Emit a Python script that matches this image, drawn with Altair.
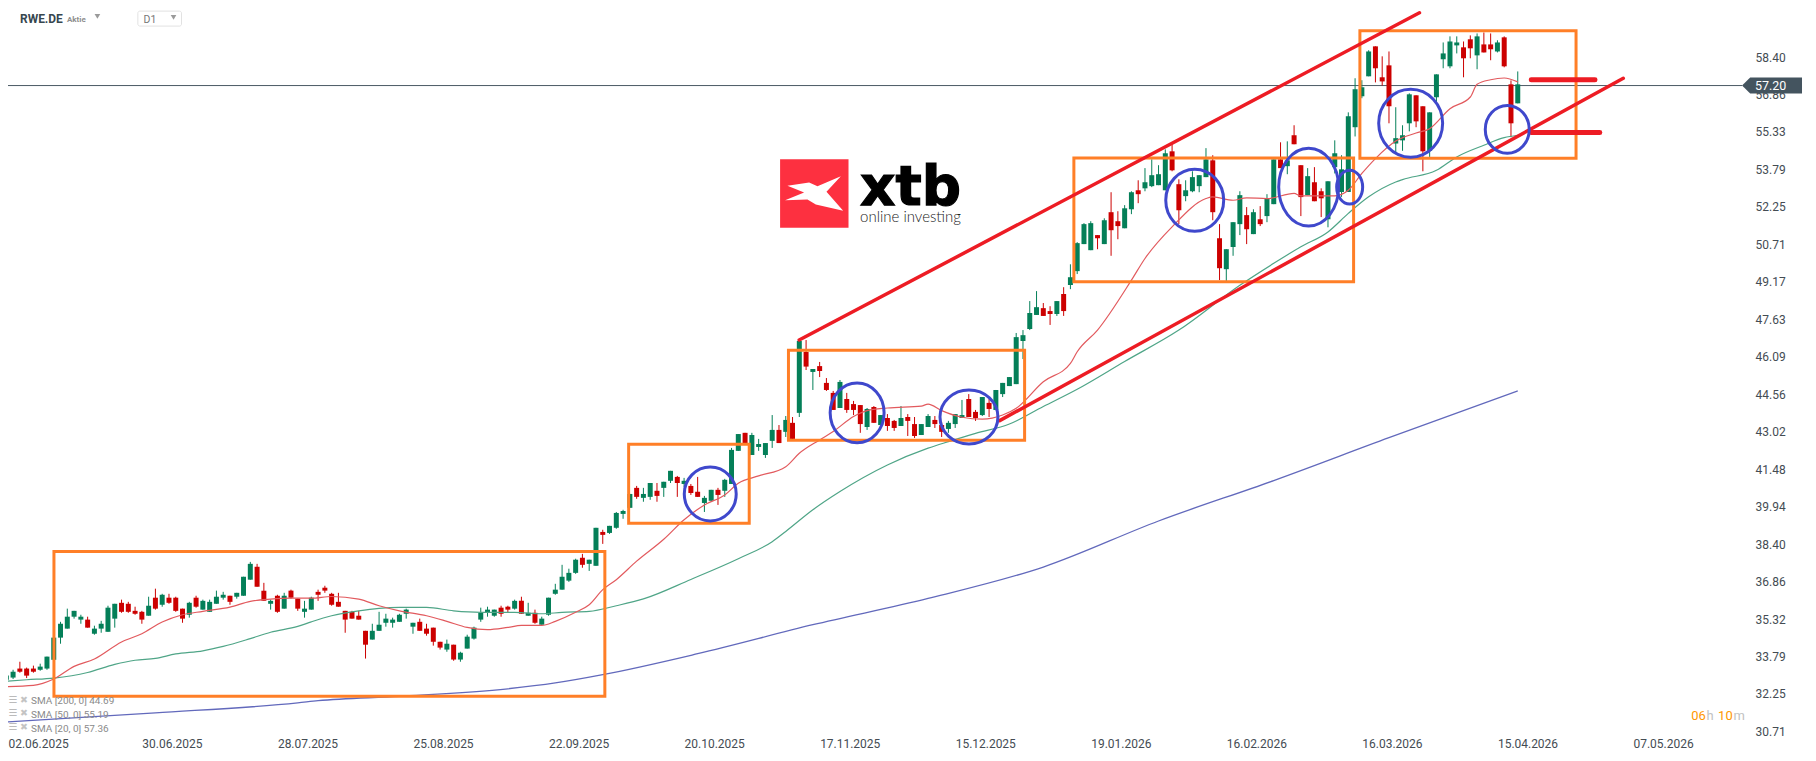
import json

import altair as alt
import pandas as pd

# daily candles, one value per trading day
opens = [
    32.83, 32.92, 33.29, 33.29, 33.29, 33.24, 33.29, 33.65, 34.56, 34.93,
    35.42, 35.30, 35.30, 34.72, 34.93, 34.80, 35.34, 35.99, 35.95, 35.66,
    35.62, 35.46, 36.20, 35.91, 36.20, 36.20, 35.75, 35.50, 36.20, 35.71,
    35.62, 35.95, 36.20, 36.28, 36.24, 36.28, 36.94, 37.47, 36.49, 35.95,
    36.28, 35.75, 36.49, 36.16, 35.62, 35.71, 36.44, 36.61, 36.36, 36.03,
    35.66, 35.62, 35.46, 34.84, 34.48, 34.84, 35.17, 35.17, 35.21, 35.54,
    35.01, 35.21, 34.93, 34.97, 34.39, 34.07, 34.27, 33.66, 34.11, 34.52,
    35.30, 35.58, 35.46, 35.79, 35.83, 35.75, 36.07, 35.46, 35.58, 35.09,
    35.50, 36.36, 36.53, 36.90, 37.22, 37.84, 37.59, 37.51, 38.90, 38.86,
    39.07, 39.64, 39.89, 40.71, 40.30, 40.34, 40.59, 40.71, 41.00, 41.16,
    40.87, 40.79, 40.55, 40.09, 40.18, 40.63, 40.59, 40.87, 42.23, 42.97,
    42.06, 42.39, 42.06, 42.64, 43.09, 43.01, 43.38, 43.79, 46.29, 45.47,
    45.71, 45.02, 44.61, 43.99, 44.36, 44.15, 44.11, 43.21, 44.03, 43.29,
    43.58, 43.46, 43.25, 43.62, 43.33, 42.88, 43.21, 43.50, 43.29, 43.13,
    43.33, 43.58, 44.36, 43.83, 43.70, 44.20, 43.91, 44.56, 44.89, 44.97,
    46.74, 47.23, 47.81, 48.09, 47.97, 47.85, 48.67, 49.04, 49.61, 50.72,
    50.47, 51.09, 50.72, 52.03, 51.66, 51.37, 52.15, 52.93, 53.01, 53.10,
    53.14, 52.93, 54.53, 53.18, 52.69, 52.89, 53.10, 53.47, 54.16, 50.96,
    49.69, 50.60, 51.54, 51.91, 51.13, 51.74, 51.87, 52.36, 54.20, 53.92,
    55.19, 53.96, 52.73, 53.26, 52.89, 51.74, 53.88, 52.86, 52.86, 55.52,
    56.79, 57.61, 58.84, 57.57, 58.06, 54.85, 54.98, 55.68, 56.83, 56.38,
    54.55, 56.75, 58.31, 58.02, 58.88, 58.80, 59.13, 58.47, 58.92, 58.92,
    58.63, 59.21, 57.28, 56.50,
]
highs = [
    33.20, 33.24, 33.57, 33.33, 33.41, 33.49, 33.78, 34.56, 35.21, 35.75,
    35.66, 35.50, 35.42, 35.05, 35.25, 35.87, 35.95, 36.12, 36.03, 35.83,
    35.66, 36.24, 36.57, 36.36, 36.36, 36.24, 35.75, 36.03, 36.28, 36.12,
    36.12, 36.49, 36.44, 36.28, 36.40, 37.06, 37.67, 37.59, 36.81, 36.12,
    36.32, 36.40, 36.53, 36.16, 36.07, 36.24, 36.53, 36.69, 36.40, 36.40,
    35.66, 35.66, 35.66, 34.84, 35.13, 35.62, 35.54, 35.38, 35.54, 35.75,
    35.17, 35.34, 35.13, 34.97, 34.39, 34.48, 34.27, 33.98, 34.68, 35.01,
    35.79, 35.83, 35.71, 35.87, 35.87, 36.12, 36.24, 35.99, 35.71, 35.42,
    36.20, 36.77, 37.55, 37.39, 37.80, 38.00, 37.76, 39.07, 38.99, 39.15,
    39.72, 39.81, 40.46, 40.79, 40.71, 40.91, 40.91, 40.96, 41.41, 41.20,
    41.12, 40.87, 41.16, 40.38, 40.63, 40.71, 41.08, 42.35, 42.92, 42.97,
    42.97, 42.72, 42.55, 43.70, 43.29, 43.66, 43.62, 46.78, 46.78, 45.59,
    45.88, 45.22, 44.69, 45.14, 44.61, 44.28, 44.11, 43.99, 44.07, 43.70,
    43.74, 43.50, 44.07, 43.74, 43.62, 43.33, 43.74, 43.66, 43.42, 43.46,
    43.74, 44.32, 44.56, 43.91, 44.44, 44.36, 44.73, 45.02, 45.26, 47.07,
    47.19, 48.38, 48.79, 48.30, 48.17, 48.38, 48.95, 49.89, 50.80, 51.58,
    51.66, 51.09, 51.78, 52.85, 52.07, 52.32, 52.89, 53.34, 53.84, 54.20,
    53.96, 54.61, 54.82, 53.38, 53.34, 53.71, 53.55, 54.66, 54.37, 51.54,
    50.51, 51.62, 52.89, 52.24, 52.15, 52.28, 52.77, 54.20, 54.90, 54.94,
    55.60, 53.96, 53.84, 53.88, 53.01, 53.30, 54.98, 54.37, 56.13, 57.53,
    57.45, 58.68, 58.84, 58.43, 58.63, 56.34, 55.60, 56.91, 56.83, 56.38,
    56.13, 57.69, 59.00, 59.25, 59.25, 59.04, 59.29, 59.37, 59.41, 59.37,
    59.09, 59.25, 57.44, 57.81,
]
lows = [
    32.77, 32.86, 33.12, 32.90, 33.12, 33.20, 33.24, 33.65, 34.31, 34.93,
    35.34, 35.13, 34.97, 34.68, 34.76, 34.80, 34.97, 35.58, 35.58, 35.50,
    35.13, 35.46, 35.71, 35.83, 35.95, 35.62, 35.17, 35.38, 35.79, 35.71,
    35.62, 35.95, 36.12, 35.91, 36.16, 36.28, 36.94, 36.65, 36.07, 35.71,
    35.58, 35.75, 36.16, 35.66, 35.38, 35.71, 36.07, 36.40, 35.87, 35.83,
    34.76, 35.34, 35.30, 33.70, 34.48, 34.84, 35.01, 34.97, 35.21, 35.34,
    34.72, 34.84, 34.64, 34.23, 34.07, 33.98, 33.61, 33.57, 34.11, 34.48,
    35.21, 35.42, 35.42, 35.42, 35.58, 35.71, 35.54, 35.46, 35.13, 35.09,
    35.46, 36.32, 36.53, 36.85, 37.18, 37.43, 37.30, 37.51, 38.41, 38.82,
    39.03, 39.44, 39.89, 40.26, 40.14, 40.22, 40.14, 40.34, 40.91, 40.34,
    40.75, 40.42, 40.34, 39.72, 40.14, 40.01, 40.34, 40.87, 42.23, 42.51,
    42.06, 42.23, 41.94, 42.35, 42.55, 42.80, 42.72, 43.62, 45.55, 44.73,
    45.26, 44.69, 43.91, 43.99, 43.79, 43.70, 42.97, 43.09, 43.38, 43.29,
    43.05, 43.05, 43.25, 42.84, 42.76, 42.88, 43.21, 43.17, 42.80, 42.97,
    43.17, 43.58, 43.62, 43.46, 43.66, 43.62, 43.91, 44.44, 44.89, 44.97,
    46.00, 47.19, 47.81, 47.77, 47.40, 47.77, 47.77, 48.87, 49.49, 50.72,
    50.47, 50.51, 50.72, 50.24, 50.92, 51.37, 51.95, 52.40, 52.89, 53.06,
    53.14, 52.93, 53.71, 51.54, 52.48, 52.85, 52.85, 53.47, 51.70, 49.24,
    49.15, 50.24, 51.09, 50.72, 51.13, 51.46, 51.62, 52.36, 53.84, 53.59,
    54.82, 51.87, 52.73, 52.48, 51.83, 51.41, 53.62, 52.66, 52.86, 55.14,
    56.71, 57.61, 57.36, 57.23, 55.68, 54.44, 54.55, 55.35, 55.52, 53.71,
    54.30, 56.49, 57.94, 57.94, 58.55, 57.57, 58.35, 57.90, 58.59, 58.27,
    58.59, 57.98, 55.11, 56.50,
]
closes = [
    33.00, 33.16, 33.16, 33.00, 33.16, 33.37, 33.78, 34.56, 35.13, 35.42,
    35.66, 35.42, 34.97, 34.93, 35.13, 35.79, 35.95, 35.62, 35.62, 35.54,
    35.30, 35.87, 35.75, 36.32, 35.99, 35.66, 35.34, 35.99, 35.83, 36.07,
    36.03, 36.24, 36.32, 36.03, 36.40, 37.06, 37.59, 36.65, 36.07, 36.07,
    35.62, 36.28, 36.20, 35.75, 35.75, 36.20, 36.32, 36.49, 35.91, 35.83,
    35.30, 35.34, 35.30, 34.27, 34.84, 35.09, 35.34, 35.30, 35.50, 35.71,
    35.17, 34.84, 34.72, 34.39, 34.15, 34.31, 33.66, 33.94, 34.60, 34.97,
    35.58, 35.71, 35.71, 35.54, 35.71, 36.07, 35.54, 35.58, 35.17, 35.34,
    36.20, 36.53, 37.06, 37.22, 37.76, 37.55, 37.76, 39.07, 38.78, 39.15,
    39.68, 39.76, 40.46, 40.34, 40.46, 40.91, 40.38, 40.96, 41.41, 40.91,
    41.00, 40.50, 40.34, 40.30, 40.63, 40.42, 41.04, 42.27, 42.92, 42.55,
    42.88, 42.51, 42.55, 43.09, 42.55, 43.50, 42.72, 46.74, 45.69, 45.59,
    45.51, 44.73, 43.91, 45.06, 43.91, 43.91, 43.33, 43.95, 43.38, 43.70,
    43.25, 43.17, 43.58, 43.46, 42.84, 43.33, 43.66, 43.33, 43.01, 43.38,
    43.74, 43.70, 43.62, 43.58, 44.44, 43.95, 44.73, 45.02, 45.26, 46.90,
    46.98, 47.89, 48.13, 47.77, 47.85, 48.38, 47.97, 49.36, 50.76, 51.54,
    51.58, 50.96, 51.70, 51.29, 51.46, 52.19, 52.85, 52.77, 53.26, 53.55,
    53.59, 54.45, 53.75, 52.11, 52.93, 53.47, 53.55, 54.20, 52.03, 49.73,
    50.51, 51.62, 52.73, 51.33, 52.03, 51.54, 52.60, 54.20, 53.84, 54.16,
    54.82, 52.65, 53.51, 52.48, 52.60, 53.30, 54.45, 53.79, 55.97, 57.08,
    57.16, 58.63, 57.94, 57.40, 56.38, 55.07, 55.19, 56.87, 55.76, 54.53,
    56.13, 57.69, 58.55, 59.04, 59.00, 58.35, 58.76, 59.25, 58.59, 58.72,
    59.00, 58.02, 55.68, 57.28,
]

# moving averages, read at the bars where the curve bends
sma20_bars = [
    0, 4, 7, 10, 13, 17, 20, 23, 26, 29, 33, 36, 39, 42, 45, 48, 52, 55, 58, 62,
    65, 68, 71, 74, 76, 79, 81, 84, 86, 88, 90, 93, 97, 100, 103, 106, 108, 111,
    115, 117, 120, 122, 125, 127, 130, 135, 136, 138, 141, 144, 147, 149, 153,
    157, 158, 161, 166, 168, 172, 177, 178, 181, 183, 186, 190, 191, 196, 198,
    200, 202, 205, 208, 210, 213, 216, 217, 219, 221, 223,
]
sma20_vals = [
    32.55, 32.60, 32.86, 33.38, 33.68, 34.38, 34.72, 35.20, 35.50, 35.64, 35.81,
    36.05, 36.14, 36.18, 36.18, 36.25, 36.14, 35.87, 35.66, 35.46, 35.23, 34.98,
    34.89, 34.98, 35.06, 35.06, 35.23, 35.60, 35.91, 36.53, 36.94, 37.70, 38.60,
    39.40, 40.01, 40.42, 40.90, 41.20, 41.58, 42.13, 42.68, 43.02, 43.64, 43.88,
    43.99, 44.07, 44.15, 43.88, 43.61, 43.53, 43.70, 43.98, 45.07, 45.82, 46.30,
    47.19, 49.24, 50.13, 51.43, 52.59, 52.66, 52.52, 52.62, 52.59, 52.80, 52.70,
    52.70, 52.93, 53.62, 54.23, 54.95, 55.28, 55.46, 56.28, 56.76, 57.28, 57.47,
    57.54, 57.38,
]
sma50_bars = [
    0, 3, 7, 12, 16, 19, 22, 25, 29, 32, 36, 39, 43, 45, 48, 52, 55, 58, 62, 66,
    70, 75, 79, 82, 86, 90, 94, 101, 108, 113, 115, 119, 123, 130, 136, 139, 143,
    148, 153, 158, 165, 173, 182, 187, 191, 195, 198, 201, 205, 206, 211, 214,
    218, 221, 223,
]
sma50_vals = [
    32.77, 32.83, 32.90, 33.13, 33.46, 33.63, 33.71, 33.89, 34.02, 34.20, 34.52,
    34.78, 35.02, 35.21, 35.46, 35.66, 35.76, 35.80, 35.80, 35.66, 35.60, 35.60,
    35.54, 35.60, 35.64, 35.87, 36.15, 36.95, 37.80, 38.50, 38.92, 39.81, 40.56,
    41.65, 42.34, 42.61, 42.95, 43.33, 44.05, 44.76, 45.90, 47.19, 49.03, 49.93,
    50.61, 51.22, 51.98, 52.66, 53.27, 53.37, 53.75, 54.30, 54.78, 55.09, 55.19,
]
sma200_bars = [0, 22, 43, 46, 58, 74, 81, 88, 102, 119, 136, 153, 170, 187, 204, 223]
sma200_vals = [
    31.10, 31.47, 31.88, 31.97, 32.15, 32.46, 32.70, 33.04, 33.90, 35.09, 36.17,
    37.46, 39.35, 41.01, 42.77, 44.69,
]

price_ticks = [
    30.71, 32.25, 33.79, 35.32, 36.86, 38.40, 39.94, 41.48, 43.02, 44.56, 46.09,
    47.63, 49.17, 50.71, 52.25, 53.79, 55.33, 56.86, 58.40,
]
# the first tick sits on the left edge, bar 0 itself falls just outside the svg
date_ticks = [0.25, 20, 40, 60, 80, 100, 120, 140, 160, 180, 200, 220, 240]
date_labels = [
    "02.06.2025", "30.06.2025", "28.07.2025", "25.08.2025", "22.09.2025",
    "20.10.2025", "17.11.2025", "15.12.2025", "19.01.2026", "16.02.2026",
    "16.03.2026", "15.04.2026", "07.05.2026",
]
last_price = 57.23

# hand drawn annotations, in bar number and price
box_from = [7.03, 91.82, 115.40, 157.51, 199.71]
box_to = [88.31, 109.61, 150.24, 198.78, 231.60]
box_top = [38.10, 42.50, 46.36, 54.26, 59.48]
box_bottom = [32.15, 39.26, 42.67, 49.17, 54.25]

channel_bars = [116.98, 208.50, 146.56, 238.57]
channel_prices = [46.78, 60.22, 43.47, 57.53]
channel_group = ["upper", "upper", "lower", "lower"]

level_bars = [225.0, 234.4, 225.0, 235.1]
level_prices = [57.47, 57.47, 55.30, 55.30]
level_group = ["a", "a", "b", "b"]

ring_bars = [103.86, 125.53, 142.03, 175.34, 192.15, 198.20, 207.20, 221.45]
ring_prices = [40.46, 43.79, 43.62, 52.52, 53.06, 53.06, 55.68, 55.43]
ring_rx = [26, 27, 29, 29, 30, 13, 32, 22]
ring_ry = [27, 30, 27, 31, 39, 17, 34, 24]

GREEN = "#047F58"
RED = "#CC0000"
INK = "#444C53"

candles = pd.DataFrame({
    "bar": list(range(len(opens))),
    "open": opens, "high": highs, "low": lows, "close": closes,
    "dir": ["up" if c >= o else "down" for o, c in zip(opens, closes)],
})

# scales chosen so that the price grid lands where the platform has it
x_scale = alt.Scale(domain=[0.25, 256.98], nice=False, zero=False, padding=0)
y_scale = alt.Scale(domain=[30.578, 60.398], nice=False, zero=False)
dir_color = alt.Color("dir:N", scale=alt.Scale(domain=["up", "down"], range=[GREEN, RED]), legend=None)

x_axis = alt.Axis(
    title=None, values=date_ticks, grid=False, domain=False, ticks=False,
    labelExpr=f"{json.dumps(date_labels)}[round(datum.value / 20)]",
    labelAlign="left", labelBaseline="middle", labelPadding=9, labelBound=False,
    labelFlush=False, labelOverlap=False, labelFont="Roboto", labelFontSize=12,
    labelColor=INK,
)
y_axis = alt.Axis(
    title=None, orient="right", values=price_ticks, format=".2f", grid=False,
    domain=False, ticks=False, labelPadding=7, labelOverlap=False,
    labelFont="Roboto", labelFontSize=12, labelColor=INK,
)


def bx(field):
    return alt.X(field, scale=x_scale, axis=x_axis)


def by(field):
    return alt.Y(field, scale=y_scale, axis=y_axis)


def sma_layer(bars, vals, color, width):
    df = pd.DataFrame({"bar": bars, "val": vals})
    return alt.Chart(df).mark_line(color=color, strokeWidth=width, interpolate="monotone").encode(
        x=bx("bar:Q"), y=by("val:Q")
    )


def page_text(text, x, y, **style):
    # positions are page pixels, the svg itself starts 8px in
    style.setdefault("font", "Roboto")
    style.setdefault("align", "left")
    style.setdefault("baseline", "middle")
    return alt.Chart(pd.DataFrame({"t": [text]})).mark_text(**style).encode(
        x=alt.value(x - 8), y=alt.value(y - 8), text="t:N"
    )


def page_symbol(shape, x, y, size, color):
    return alt.Chart(pd.DataFrame({"k": [0]})).mark_point(
        shape=shape, size=size, filled=True, fill=color, strokeWidth=0, opacity=1
    ).encode(x=alt.value(x - 8), y=alt.value(y - 8))


wicks = alt.Chart(candles).mark_rule(strokeWidth=1).encode(
    x=bx("bar:Q"), y=by("low:Q"), y2="high:Q", color=dir_color
)

bodies = alt.Chart(candles).mark_bar(size=5).encode(
    x=bx("bar:Q"), y=by("open:Q"), y2="close:Q", color=dir_color
)

price_line = alt.Chart(pd.DataFrame({"p": [last_price]})).mark_rule(
    color="#4A5963", strokeWidth=1
).encode(y=by("p:Q"), x=alt.value(0), x2=alt.value(1736))

price_tag = alt.Chart(pd.DataFrame({"p": [last_price]})).mark_point(
    shape="M-1 0L-0.73 -0.267L1 -0.267L1 0.267L-0.73 0.267Z",
    size=3600, filled=True, fill="#44545F", strokeWidth=0, opacity=1,
).encode(y=by("p:Q"), x=alt.value(1766))

boxes = alt.Chart(pd.DataFrame({
    "a": box_from, "b": box_to, "top": box_top, "bottom": box_bottom,
})).mark_rect(fillOpacity=0, stroke="#FF7F27", strokeWidth=3).encode(
    x=bx("a:Q"), x2="b:Q", y=by("top:Q"), y2="bottom:Q"
)

channels = alt.Chart(pd.DataFrame({
    "bar": channel_bars, "p": channel_prices, "g": channel_group,
})).mark_line(color="#ED1C24", strokeWidth=3.5, strokeCap="round").encode(
    x=bx("bar:Q"), y=by("p:Q"), detail="g:N"
)

levels = alt.Chart(pd.DataFrame({
    "bar": level_bars, "p": level_prices, "g": level_group,
})).mark_line(color="#ED1C24", strokeWidth=5, strokeCap="round").encode(
    x=bx("bar:Q"), y=by("p:Q"), detail="g:N"
)

rings = []
for bar, price, rx, ry in zip(ring_bars, ring_prices, ring_rx, ring_ry):
    r = round(ry / rx, 3)
    rings.append(
        alt.Chart(pd.DataFrame({"bar": [bar], "p": [price]})).mark_point(
            shape=f"M-1 0A1 {r} 0 1 1 1 0A1 {r} 0 1 1 -1 0Z",
            size=4 * rx * rx, filled=False, stroke="#3F48CC", strokeWidth=3, opacity=1,
        ).encode(x=bx("bar:Q"), y=by("p:Q"))
    )

logo = [
    page_symbol("square", 815.2, 193.3, 4692, "#FD3040"),
    page_symbol(
        "M-0.785 -0.224L-0.151 -0.322L0.093 -0.215L0.776 -0.507L0.356 -0.049L0.844 0.507"
        "L0.044 0.322L-0.2 0.176L-0.854 0.195L-0.298 -0.029Z",
        815.2, 193.3, 4692, "#FFFFFF",
    ),
    page_text("xtb", 861, 205, font="DejaVu Sans", fontWeight="bold", fontSize=55,
              color="#000000", stroke="#000000", strokeWidth=1.2, baseline="alphabetic"),
    page_text("online investing", 861, 216.5, font="Lato", fontWeight=300, fontSize=15,
              color="#222222"),
]

header = [
    page_text("RWE.DE", 20, 19, fontWeight="bold", fontSize=12, color="#37474F"),
    page_text("Aktie", 67, 19.5, fontWeight="bold", fontSize=8, color="#8E8E8E"),
    page_symbol("triangle-down", 97.5, 16, 32, "#9A9A9A"),
    alt.Chart(pd.DataFrame({"k": [0]})).mark_rect(
        fillOpacity=0, stroke="#E2E2E2", strokeWidth=1, cornerRadius=2
    ).encode(x=alt.value(130), x2=alt.value(173.7), y=alt.value(2.7), y2=alt.value(17.7)),
    page_text("D1", 143.7, 19.5, fontSize=10.5, color="#777777"),
    page_symbol("triangle-down", 173.7, 17, 32, "#9A9A9A"),
]

sma_legend = []
for text, y in zip(["SMA [200, 0] 44.69", "SMA [50, 0] 55.19", "SMA [20, 0] 57.36"], [701.7, 715, 729.3]):
    sma_legend += [
        page_text("☰", 8.5, y - 1.5, font="DejaVu Sans", fontSize=10, color="#BBBBBB"),
        page_text("✖", 20, y - 1.5, font="DejaVu Sans", fontSize=9.5, color="#C4C4C4"),
        page_text(text, 31, y, fontSize=10, color="#8A8A8A"),
    ]

countdown = [
    page_text("06", 1693, 716, fontSize=13, color="#FF9800"),
    page_text("h", 1708.5, 716, fontSize=13, color="#C2C2C2"),
    page_text("10", 1720, 716, fontSize=13, color="#FF9800"),
    page_text("m", 1735.5, 716, fontSize=13, color="#C2C2C2"),
]

chart = alt.layer(
    price_line,
    sma_layer(sma200_bars, sma200_vals, "#6269BC", 1.3),
    wicks,
    bodies,
    sma_layer(sma50_bars, sma50_vals, "#4FA587", 1.2),
    sma_layer(sma20_bars, sma20_vals, "#E25A5E", 1.2),
    *logo,
    boxes,
    channels,
    levels,
    *rings,
    price_tag,
    page_text("57.20", 1757, 85.5, fontSize=12.5, color="#FFFFFF"),
    *header,
    *sma_legend,
    *countdown,
).properties(
    width=1742,
    height=727,
    padding={"left": 0, "top": 0, "right": 60, "bottom": 18},
    autosize=alt.AutoSizeParams(type="none"),
    background="white",
).configure_view(stroke=None)

chart.save("out.html", embed_options={"renderer": "svg", "actions": False})
